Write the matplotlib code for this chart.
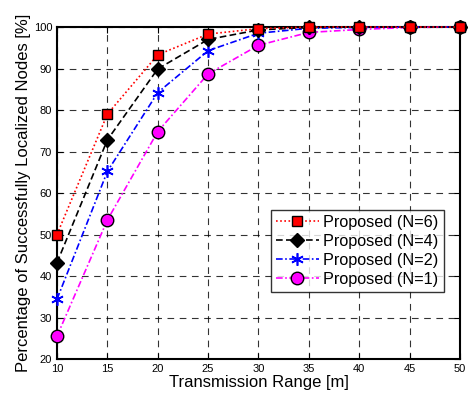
import numpy as np
import matplotlib
matplotlib.use("Agg")
import matplotlib.pyplot as plt

plt.rcParams["font.family"] = ["Liberation Sans", "DejaVu Sans"]

x = [10, 15, 20, 25, 30, 35, 40, 45, 50]
n6 = [50.0, 79.0, 93.3, 98.3, 99.6, 100, 100, 100, 100]
n4 = [43.2, 72.8, 89.9, 97.0, 99.3, 99.9, 100, 100, 100]
n2 = [34.4, 65.2, 84.2, 94.3, 98.5, 99.7, 99.9, 100, 100]
n1 = [25.5, 53.5, 74.8, 88.7, 95.6, 98.7, 99.4, 99.9, 100]

fig = plt.figure(figsize=(4.73, 3.96), dpi=100)
ax = fig.add_axes([0.1205, 0.0934, 0.852, 0.8384])

ax.plot(x, n1, linestyle=(0, (4, 1.5, 1, 1.5)), color="magenta", marker="o", markersize=9,
        markerfacecolor="magenta", markeredgecolor="black", markeredgewidth=1, lw=1.2,
        label="Proposed (N=1)", zorder=3, clip_on=False)
ax.plot(x, n2, linestyle=(0, (4, 1.5, 1, 1.5)), color="blue", marker=(6, 2, 0), markersize=9,
        markeredgecolor="blue", markeredgewidth=1.2, lw=1.2, label="Proposed (N=2)", zorder=4,
        clip_on=False)
ax.plot(x, n4, linestyle=(0, (4, 2)), color="black", marker="D", markersize=7,
        markerfacecolor="black", lw=1.2, label="Proposed (N=4)", zorder=5, clip_on=False)
ax.plot(x, n6, linestyle=(0, (1, 1.5)), color="red", marker="s", markersize=7,
        markerfacecolor="red", markeredgecolor="black", markeredgewidth=1, lw=1.2,
        label="Proposed (N=6)", zorder=6, clip_on=False)

ax.set_xlim(10, 50)
ax.set_ylim(20, 100)
ax.set_xticks(range(10, 51, 5))
ax.set_yticks(range(20, 101, 10))
ax.grid(True, color="black", linestyle=(0, (6, 5)), linewidth=0.8, alpha=0.8)
ax.tick_params(direction="in", labelsize=8, length=4, top=True, right=True)
for s in ax.spines.values():
    s.set_linewidth(1.5)
ax.set_xlabel("Transmission Range [m]", fontsize=12, labelpad=1)
ax.set_ylabel("Percentage of Successfully Localized Nodes [%]", fontsize=12, labelpad=2)

h, l = ax.get_legend_handles_labels()
leg = ax.legend(h[::-1], l[::-1], loc="upper left", bbox_to_anchor=(0.532, 0.449),
                fontsize=11.7, frameon=True, fancybox=False, edgecolor="black",
                handlelength=2.6, borderpad=0.3, labelspacing=0.25, handletextpad=0.3,
                borderaxespad=0)
leg.get_frame().set_linewidth(1)
leg.set_zorder(10)

fig.savefig("out.png", dpi=100)
